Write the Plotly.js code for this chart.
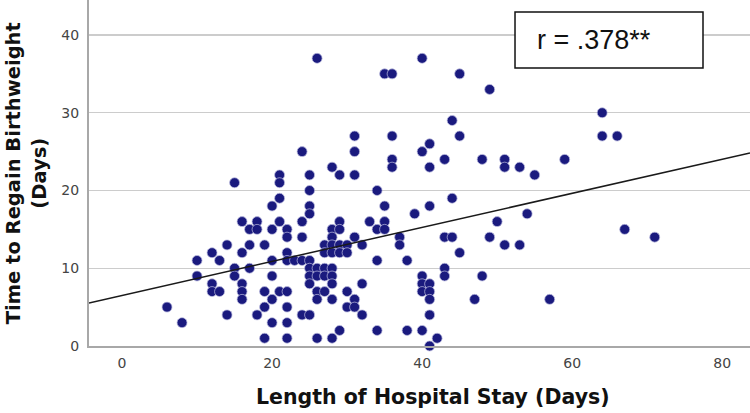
<!DOCTYPE html>
<html>
<head>
<meta charset="utf-8">
<script src="https://cdn.plot.ly/plotly-3.0.1.min.js"></script>
<style>
  html, body { margin: 0; padding: 0; background: #fff; }
  #chart { width: 750px; height: 413px; }
</style>
</head>
<body>
<div id="chart"></div>
<script>
// length of hospital stay (days), one entry per infant
var stayDays = [
  6, 8, 10, 10, 12, 12, 12, 13, 13, 14, 14, 15, 15, 15,
  16, 16, 16, 16, 16, 17, 17, 17, 18, 18, 18, 19, 19, 19, 19,
  20, 20, 20, 20, 20, 20, 21, 21, 21, 21, 21,
  22, 22, 22, 22, 22, 22, 22, 22, 23,
  24, 24, 24, 24, 24, 25, 25, 25, 25, 25, 25, 25, 25, 25,
  26, 26, 26, 26, 26, 26, 27, 27, 27, 27, 27,
  28, 28, 28, 28, 28, 28, 28, 28, 28, 28,
  29, 29, 29, 29, 29, 29, 30, 30, 30, 30,
  31, 31, 31, 31, 31, 31, 32, 32, 32, 33,
  34, 34, 34, 34, 35, 35, 35, 35, 36, 36, 36, 36, 37, 37, 38, 38, 39,
  40, 40, 40, 40, 40, 40, 41, 41, 41, 41, 41, 41, 41, 41, 42,
  43, 43, 43, 43, 44, 44, 44, 45, 45, 45, 47, 48, 48, 49, 49, 50,
  51, 51, 51, 53, 53, 54, 55, 57, 59, 64, 64, 66, 67, 71
];

// time to regain birthweight (days), same order
var regainDays = [
  5, 3, 11, 9, 12, 8, 7, 11, 7, 13, 4, 21, 10, 9,
  16, 12, 8, 7, 6, 15, 13, 10, 16, 15, 4, 13, 7, 5, 1,
  18, 15, 11, 9, 6, 3, 22, 21, 19, 16, 7,
  15, 14, 12, 11, 7, 5, 3, 1, 11,
  25, 16, 14, 11, 4, 22, 20, 18, 17, 11, 10, 9, 8, 4,
  37, 10, 9, 7, 6, 1, 13, 12, 10, 9, 7,
  23, 15, 14, 13, 12, 10, 9, 8, 6, 1,
  22, 16, 15, 13, 12, 2, 13, 12, 7, 5,
  27, 25, 22, 14, 6, 5, 13, 8, 4, 16,
  20, 15, 11, 2, 35, 18, 16, 15, 35, 27, 24, 23, 14, 13, 11, 2, 17,
  37, 25, 9, 8, 7, 2, 26, 23, 18, 8, 7, 6, 4, 0, 1,
  24, 14, 10, 9, 29, 19, 14, 35, 27, 12, 6, 24, 9, 33, 14, 16,
  24, 23, 13, 23, 13, 17, 22, 6, 24, 30, 27, 27, 15, 14
];

// linear fit drawn across the full x range
var fitIntercept = 6.5;
var fitSlope = 0.219;
var corrLabel = 'r = .378**';

var xRange = [-4.4, 83.7];
var yRange = [0, 44.5];

var fitX = [xRange[0], xRange[1]];
var fitY = fitX.map(function (v) { return fitIntercept + fitSlope * v; });

var traces = [{
  x: stayDays,
  y: regainDays,
  type: 'scatter',
  mode: 'markers',
  cliponaxis: false,
  hoverinfo: 'x+y',
  marker: {
    color: '#1a1a7e',
    size: 10,
    line: { color: 'rgba(190,190,225,0.9)', width: 0.8 }
  },
  showlegend: false
}, {
  x: fitX,
  y: fitY,
  type: 'scatter',
  mode: 'lines',
  hoverinfo: 'skip',
  line: { color: '#1a1a1a', width: 1.5 },
  showlegend: false
}];

var tickFont = { family: 'DejaVu Sans, Verdana, sans-serif', size: 14, color: '#444' };
var xTitleFont = { family: 'DejaVu Sans, Verdana, sans-serif', size: 20.5, color: '#111' };
var yTitleFont = { family: 'DejaVu Sans, Verdana, sans-serif', size: 19.5, color: '#111' };

var layout = {
  width: 750,
  height: 413,
  margin: { l: 89, r: 0, t: 0, b: 67 },
  paper_bgcolor: '#fff',
  plot_bgcolor: '#fff',
  xaxis: {
    range: xRange,
    tickvals: [0, 20, 40, 60, 80],
    showgrid: false,
    zeroline: false,
    showline: true,
    linecolor: '#a8a8a8',
    linewidth: 2,
    ticks: 'outside',
    ticklen: 3,
    tickcolor: 'rgba(0,0,0,0)',
    tickfont: tickFont
  },
  yaxis: {
    range: yRange,
    tickvals: [0, 10, 20, 30, 40],
    showgrid: true,
    gridcolor: '#cccccc',
    gridwidth: 1.5,
    zeroline: false,
    showline: true,
    linecolor: '#a8a8a8',
    linewidth: 2,
    ticks: 'outside',
    ticklen: 5,
    tickcolor: 'rgba(0,0,0,0)',
    tickfont: tickFont
  },
  shapes: [{
    type: 'rect',
    xref: 'paper', yref: 'paper',
    x0: 0.6445, x1: 0.9289,
    y0: 0.8035, y1: 0.9653,
    fillcolor: '#fff',
    line: { color: '#111', width: 1.5 },
    layer: 'above'
  }],
  annotations: [{
    text: '<b>Length of Hospital Stay (Days)</b>',
    xref: 'paper', yref: 'paper',
    x: 0.52, y: -0.147,
    xanchor: 'center', yanchor: 'middle',
    showarrow: false,
    font: xTitleFont
  }, {
    text: '<b>Time to Regain Birthweight<br>(Days)</b>',
    xref: 'paper', yref: 'paper',
    x: -0.095, y: 0.5,
    xanchor: 'center', yanchor: 'middle',
    textangle: -90,
    showarrow: false,
    font: yTitleFont
  }, {
    text: corrLabel,
    xref: 'paper', yref: 'paper',
    x: 0.674, y: 0.884,
    xanchor: 'left', yanchor: 'middle',
    showarrow: false,
    font: { family: 'Liberation Sans, Arial, sans-serif', size: 27, color: '#111' }
  }]
};

Plotly.newPlot('chart', traces, layout, { displayModeBar: false, staticPlot: true });
</script>
</body>
</html>
